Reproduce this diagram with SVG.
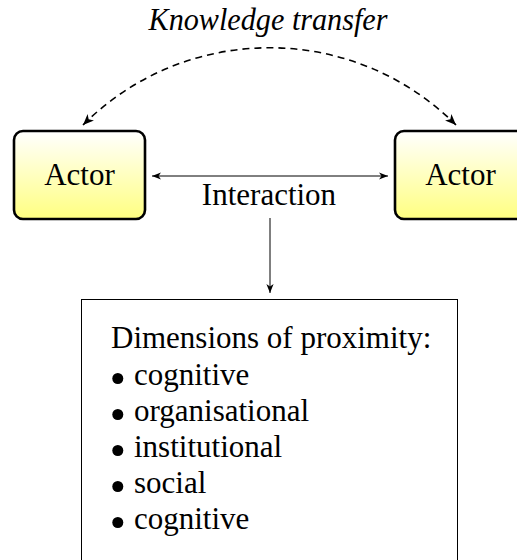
<svg xmlns="http://www.w3.org/2000/svg" width="517" height="560" viewBox="0 0 517 560">
<style>
.lbl{font-size:31px;fill:#000}
.actor{fill:url(#yg);stroke:#000;stroke-width:2.6}
.c{fill:none;stroke:#000;stroke-width:1}
.d{fill:none;stroke:#000;stroke-width:1.6;stroke-dasharray:7 5}
</style>
<defs>
<linearGradient id="yg" x1="0" y1="0" x2="0" y2="1">
<stop offset="0" stop-color="#ffffff"/>
<stop offset="1" stop-color="#ffff80"/>
</linearGradient>
<marker id="ah" viewBox="-10 -5 12 10" refX="0" refY="0" markerWidth="12" markerHeight="10" markerUnits="userSpaceOnUse" orient="auto-start-reverse">
<path d="M0,0 L-9,-3.6 L-6.5,0 L-9,3.6 Z" fill="#000"/>
</marker>
<marker id="ah2" viewBox="-12 -6 14 12" refX="0" refY="0" markerWidth="14" markerHeight="12" markerUnits="userSpaceOnUse" orient="auto-start-reverse">
<path d="M0,0 L-11,-4.5 L-8,0 L-11,4.5 Z" fill="#000"/>
</marker>
</defs>
<g id="connectors">
<path class="d" d="M83,125 C186,22 353,22 456,125" marker-start="url(#ah2)" marker-end="url(#ah2)"/>
<line class="c" x1="152" y1="176" x2="388" y2="176" marker-start="url(#ah)" marker-end="url(#ah)"/>
<line class="c" x1="270" y1="218" x2="270" y2="293" marker-end="url(#ah)"/>
</g>
<g id="label-knowledge">
<text class="lbl" style="font-family:'Liberation Serif',serif;font-style:italic" x="268" y="30" text-anchor="middle" textLength="239" lengthAdjust="spacingAndGlyphs">Knowledge transfer</text>
</g>
<g id="actor-left">
<rect class="actor" x="14" y="131" width="131" height="88" rx="9"/>
<text class="lbl" style="font-family:'Liberation Serif',serif" x="79.5" y="185" text-anchor="middle">Actor</text>
</g>
<g id="actor-right">
<rect class="actor" x="395" y="131" width="131" height="88" rx="9"/>
<text class="lbl" style="font-family:'Liberation Serif',serif" x="460.5" y="185" text-anchor="middle">Actor</text>
</g>
<g id="label-interaction">
<text class="lbl" style="font-family:'Liberation Serif',serif" x="269" y="205" text-anchor="middle">Interaction</text>
</g>
<g id="proximity">
<rect x="81.5" y="299.5" width="376" height="280" fill="none" stroke="#000" stroke-width="1"/>
<text class="lbl" style="font-family:'Liberation Serif',serif" x="111" y="348">Dimensions of proximity:</text>
<circle cx="117.8" cy="378.5" r="5.5"/><text class="lbl" style="font-family:'Liberation Serif',serif" x="134" y="385">cognitive</text>
<circle cx="117.8" cy="414.5" r="5.5"/><text class="lbl" style="font-family:'Liberation Serif',serif" x="134" y="421">organisational</text>
<circle cx="117.8" cy="450.5" r="5.5"/><text class="lbl" style="font-family:'Liberation Serif',serif" x="134" y="457">institutional</text>
<circle cx="117.8" cy="486.5" r="5.5"/><text class="lbl" style="font-family:'Liberation Serif',serif" x="134" y="493">social</text>
<circle cx="117.8" cy="522.5" r="5.5"/><text class="lbl" style="font-family:'Liberation Serif',serif" x="134" y="529">cognitive</text>
</g>
</svg>
